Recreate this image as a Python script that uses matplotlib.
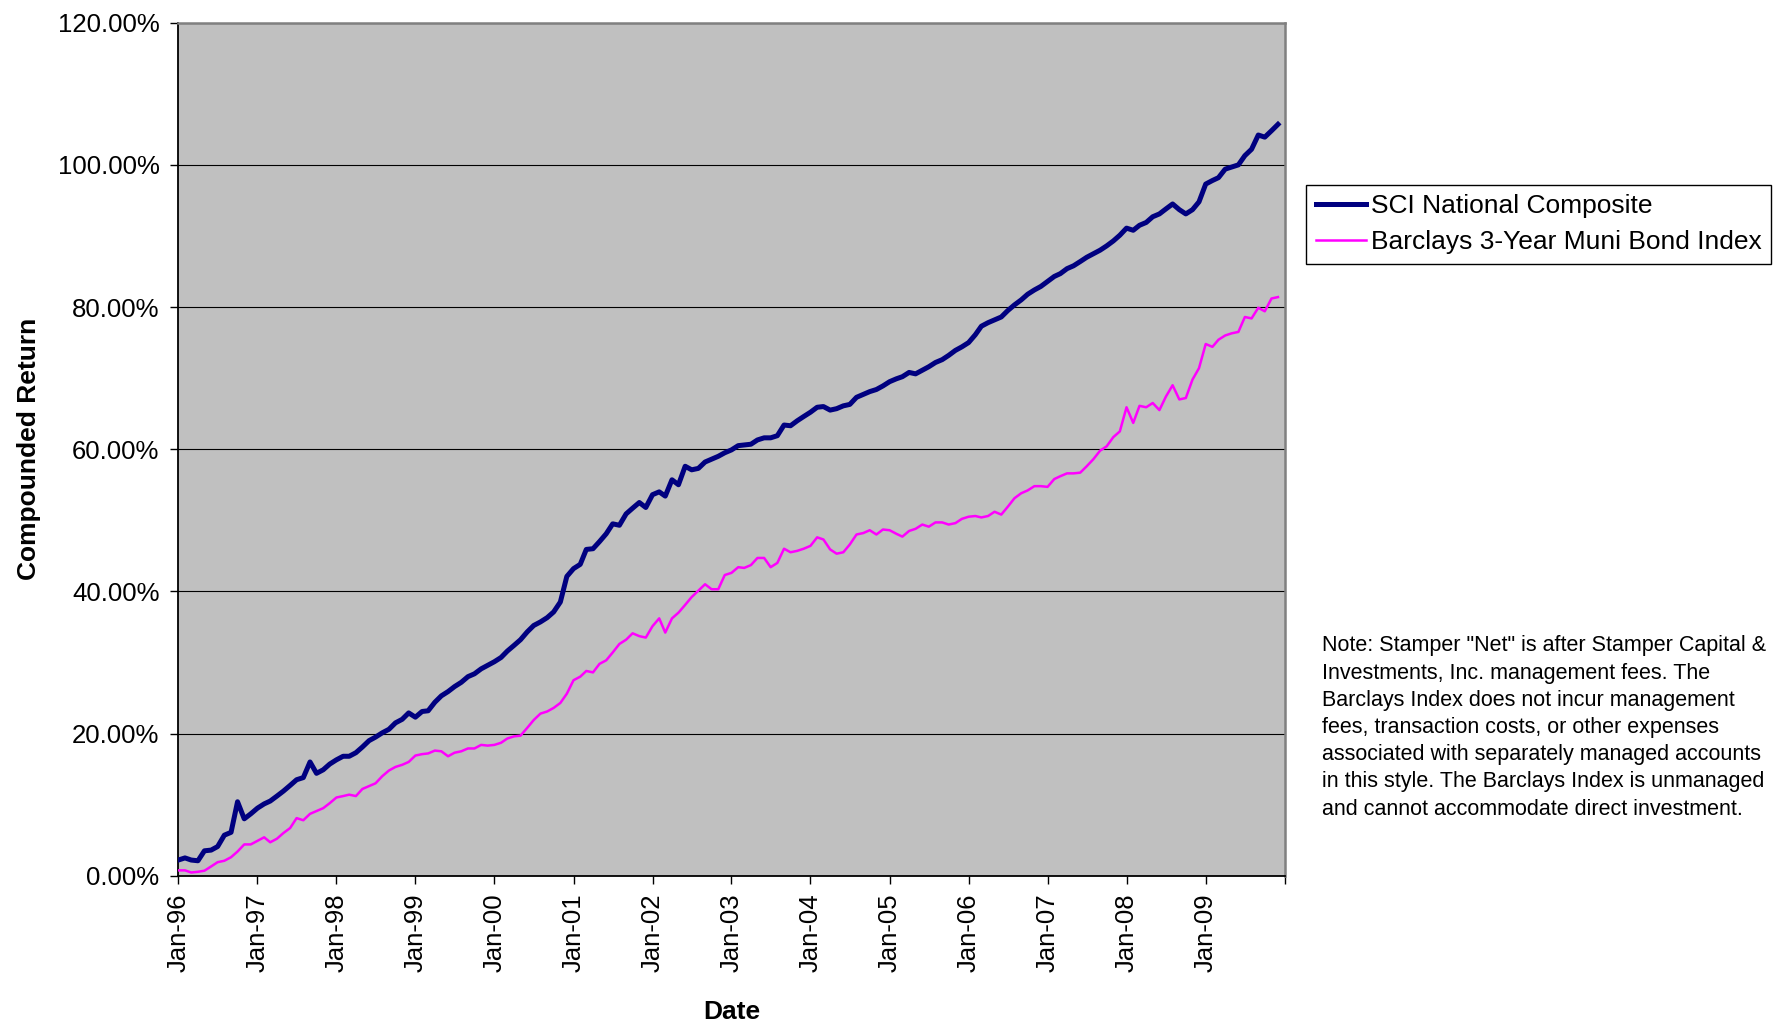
import numpy as np
import pandas as pd
import matplotlib
matplotlib.use('Agg')
from matplotlib import pyplot as plt
import matplotlib.dates as mdates
from matplotlib.ticker import FuncFormatter, MultipleLocator

plt.rcParams['font.family'] = ['Liberation Sans', 'DejaVu Sans']

# monthly compounded return (%), Jan-96 .. Dec-09
sci_national = [
    2.2, 2.5, 2.2, 2.1, 3.5, 3.6, 4.1, 5.7, 6.1, 10.4, 8.0, 8.7,
    9.5, 10.1, 10.5, 11.2, 11.9, 12.7, 13.5, 13.8, 16.0, 14.4, 14.9, 15.7,
    16.3, 16.8, 16.8, 17.3, 18.1, 19.0, 19.5, 20.1, 20.6, 21.5, 22.0, 22.9,
    22.3, 23.1, 23.2, 24.4, 25.3, 25.9, 26.6, 27.2, 28.0, 28.4, 29.1, 29.6,
    30.1, 30.7, 31.6, 32.4, 33.2, 34.3, 35.2, 35.7, 36.3, 37.1, 38.5, 42.1,
    43.2, 43.8, 45.9, 46.0, 47.0, 48.1, 49.5, 49.3, 50.9, 51.7, 52.5, 51.8,
    53.6, 54.0, 53.4, 55.7, 55.0, 57.6, 57.1, 57.3, 58.2, 58.6, 59.0, 59.5,
    59.9, 60.5, 60.6, 60.7, 61.3, 61.6, 61.6, 61.9, 63.4, 63.3, 64.0, 64.6,
    65.2, 65.9, 66.0, 65.5, 65.7, 66.1, 66.3, 67.3, 67.7, 68.1, 68.4, 68.9,
    69.5, 69.9, 70.2, 70.8, 70.6, 71.1, 71.6, 72.2, 72.6, 73.2, 73.9, 74.4,
    75.0, 76.1, 77.3, 77.8, 78.2, 78.6, 79.5, 80.3, 81.0, 81.8, 82.4, 82.9,
    83.6, 84.3, 84.7, 85.4, 85.8, 86.4, 87.0, 87.5, 88.0, 88.6, 89.3, 90.1,
    91.1, 90.8, 91.5, 91.9, 92.7, 93.1, 93.8, 94.5, 93.7, 93.1, 93.7, 94.8,
    97.3, 97.8, 98.2, 99.4, 99.7, 100.0, 101.3, 102.2, 104.2, 103.9, 104.8, 105.7,
]

barclays_3yr = [
    0.75, 0.75, 0.45, 0.55, 0.7, 1.3, 1.9, 2.1, 2.6, 3.4, 4.4, 4.4,
    4.9, 5.4, 4.7, 5.2, 6.0, 6.7, 8.1, 7.8, 8.7, 9.1, 9.5, 10.2,
    11.0, 11.2, 11.4, 11.2, 12.2, 12.6, 13.0, 14.0, 14.8, 15.3, 15.6, 16.0,
    16.9, 17.1, 17.2, 17.6, 17.5, 16.8, 17.3, 17.5, 17.9, 17.9, 18.4, 18.3,
    18.4, 18.7, 19.3, 19.6, 19.7, 20.8, 21.9, 22.8, 23.1, 23.6, 24.3, 25.6,
    27.5, 28.0, 28.8, 28.6, 29.8, 30.3, 31.4, 32.6, 33.2, 34.1, 33.7, 33.5,
    35.1, 36.2, 34.2, 36.2, 37.0, 38.1, 39.2, 40.1, 41.0, 40.3, 40.3, 42.3,
    42.6, 43.4, 43.3, 43.7, 44.7, 44.7, 43.4, 44.0, 46.0, 45.5, 45.7, 46.0,
    46.4, 47.6, 47.3, 45.9, 45.3, 45.5, 46.6, 48.0, 48.2, 48.6, 48.0, 48.7,
    48.6, 48.1, 47.7, 48.5, 48.8, 49.4, 49.1, 49.7, 49.7, 49.4, 49.6, 50.2,
    50.5, 50.6, 50.4, 50.6, 51.2, 50.8, 51.9, 53.1, 53.8, 54.2, 54.8, 54.8,
    54.7, 55.8, 56.2, 56.6, 56.6, 56.7, 57.6, 58.6, 59.8, 60.4, 61.7, 62.5,
    65.9, 63.7, 66.1, 65.9, 66.5, 65.5, 67.4, 69.0, 67.0, 67.2, 69.8, 71.4,
    74.8, 74.4, 75.4, 76.0, 76.3, 76.5, 78.6, 78.4, 79.9, 79.4, 81.2, 81.4,
]

dates = pd.date_range('1996-01-01', periods=len(sci_national), freq='MS')
series_names = ['SCI National Composite', 'Barclays 3-Year Muni Bond Index']
note = ('Note: Stamper "Net" is after Stamper Capital &\n'
        'Investments, Inc. management fees. The\n'
        'Barclays Index does not incur management\n'
        'fees, transaction costs, or other expenses\n'
        'associated with separately managed accounts\n'
        'in this style. The Barclays Index is unmanaged\n'
        'and cannot accommodate direct investment.')

fig = plt.figure(figsize=(17.88, 10.23), dpi=100)
ax = fig.add_axes([0.0997, 0.144, 0.6188, 0.8338])
ax.set_facecolor('#C0C0C0')

ax.plot(dates, sci_national, color='#000080', lw=3.6, label=series_names[0],
        solid_joinstyle='round', zorder=3)
ax.plot(dates, barclays_3yr, color='#FF00FF', lw=1.8, label=series_names[1], zorder=3)

# y axis, 0 - 120 %
ax.set_ylim(0, 120)
ax.yaxis.set_major_locator(MultipleLocator(20))
ax.yaxis.set_major_formatter(FuncFormatter(lambda v, p: '{:.2f}%'.format(v)))
ax.grid(axis='y', color='black', lw=0.8, zorder=1)
ax.set_axisbelow(True)

# x axis, ticks on every January
ax.set_xlim(pd.Timestamp('1996-01-01'), pd.Timestamp('2010-01-01'))
jan_ticks = pd.date_range('1996-01-01', '2010-01-01', freq='YS')
ax.set_xticks(jan_ticks)
ax.set_xticklabels([d.strftime('%b-%y') for d in jan_ticks[:-1]] + [''], rotation=90)

ax.tick_params(axis='both', labelsize=18.5, direction='out', width=1, colors='black')
ax.tick_params(axis='y', length=5.5, pad=8)
ax.tick_params(axis='x', length=6, pad=7)

for side in ['left', 'bottom']:
    ax.spines[side].set_color('black')
    ax.spines[side].set_linewidth(1.3)
for side in ['top', 'right']:
    ax.spines[side].set_color('#808080')
    ax.spines[side].set_linewidth(1.8)

ax.set_ylabel('Compounded Return', fontsize=19, fontweight='bold')
ax.yaxis.set_label_coords(-0.1245, 0.5)
ax.set_xlabel('Date', fontsize=19, fontweight='bold')
ax.xaxis.set_label_coords(0.5, -0.146)

leg = fig.legend(loc='upper left', bbox_to_anchor=(0.7306, 0.819), fontsize=19,
                 frameon=True, fancybox=False, edgecolor='black', framealpha=1,
                 handlelength=1.9, handletextpad=0.2, borderpad=0.35,
                 labelspacing=0.45, borderaxespad=0)
leg.get_frame().set_linewidth(1.0)

fig.text(0.7394, 0.379, note, fontsize=15.5, va='top', ha='left', linespacing=1.39)

fig.savefig('out.png', dpi=100)
